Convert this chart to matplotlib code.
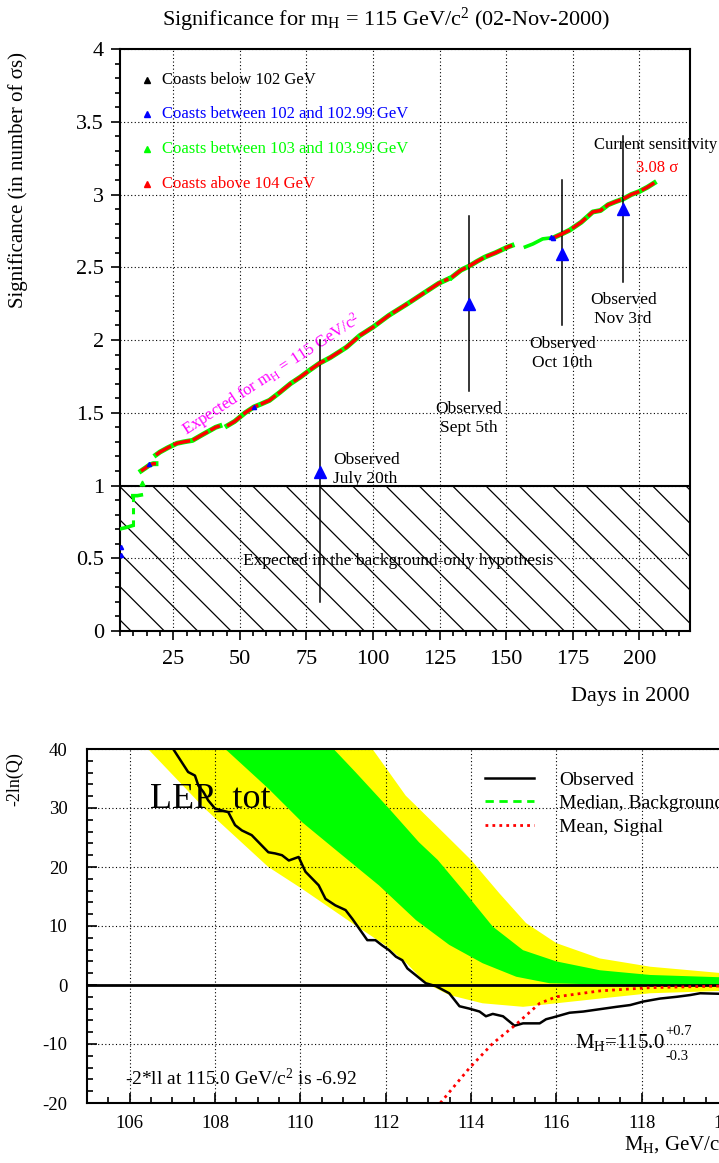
"""Significance vs days (LEP 2000) and -2ln(Q) vs Higgs mass
"""
import matplotlib
matplotlib.use('Agg')
import matplotlib.pyplot as plt
import numpy as np
from matplotlib.ticker import MultipleLocator, FuncFormatter

plt.rcParams['font.family'] = 'Liberation Serif'
plt.rcParams['mathtext.fontset'] = 'custom'
plt.rcParams['mathtext.rm'] = 'Liberation Serif'
plt.rcParams['mathtext.it'] = 'Liberation Serif:italic'
plt.rcParams['mathtext.default'] = 'regular'
plt.rcParams['axes.unicode_minus'] = False
plt.rcParams['hatch.linewidth'] = 0.9

nan = np.nan
GREEN = '#00ff00'

# ---------------- top panel data ----------------
# expected significance, early coasts and one later stretch (green only)
early_days = [4.7, 7.0, 9.8, nan, 9.8, 11.5, 13.0, nan, 157.2, 160.0, 163.7, 166.0]
early_sig = [0.70, 0.71, 0.725, nan, 0.93, 0.93, 0.935, nan, 2.64, 2.66, 2.695, 2.70]
jump_days = [9.8, 9.8]
jump_sig = [0.725, 0.93]

# expected significance, mixed coasts (red over green)
exp_days = [12.9, 14.5, 16.0, 17.5, 18.5, nan,
            18.5, 20.0, 23.0, 26.4, 29.0, 32.2, 36.0, 40.9, 42.5, nan,
            45.2, 48.0, 52.0, 55.3, 58.0, 61.1, 65.0, 69.0, 72.7, 76.0,
            79.9, 84.0, 90.0, 95.0, 100.1, 106.0, 113.0, 118.0, 124.7, 128.3, nan,
            129.5, 133.0, 136.3, 139.0, 142.0, 146.0, 150.7, 152.2, nan,
            168.0, 171.0, 173.8, 178.2, 182.5, 185.4, 188.3, 191.0, 194.0,
            197.0, 199.9, 203.0, 205.6]
exp_sig = [1.10, 1.12, 1.14, 1.15, 1.15, nan,
           1.21, 1.23, 1.26, 1.29, 1.30, 1.31, 1.35, 1.40, 1.41, nan,
           1.41, 1.44, 1.50, 1.54, 1.56, 1.585, 1.64, 1.70, 1.745, 1.79,
           1.84, 1.88, 1.95, 2.03, 2.09, 2.17, 2.25, 2.31, 2.39, 2.42, nan,
           2.43, 2.48, 2.51, 2.54, 2.57, 2.60, 2.64, 2.65, nan,
           2.705, 2.73, 2.755, 2.81, 2.88, 2.89, 2.93, 2.95, 2.97,
           3.00, 3.02, 3.05, 3.08]
single_days = [13.1]
single_sig = [1.02]
blue_days = [5.4, 5.4, 16.0, 55.3, 166.8, 167.6]
blue_sig = [0.58, 0.52, 1.15, 1.54, 2.705, 2.70]

# observed significance
obs_days = [79.9, 136.0, 171.0, 193.8]
obs_sig = [1.09, 2.245, 2.594, 2.90]
obs_lo = [0.2, 1.65, 2.10, 2.40]
obs_hi = [2.0, 2.85, 3.10, 3.40]
obs_labels = ['Observed\nJuly 20th', 'Observed\nSept 5th',
              'Observed\nOct 10th', 'Observed\nNov 3rd']
obs_label_x = [85.0, 135.8, 171.1, 193.9]
obs_label_y = [1.11, 1.46, 1.91, 2.21]
obs_label_ha = ['left', 'center', 'center', 'center']

coast_labels = ['Coasts below 102 GeV', 'Coasts between 102 and 102.99 GeV',
                'Coasts between 103 and 103.99 GeV', 'Coasts above 104 GeV']
coast_colors = ['black', 'blue', GREEN, 'red']
coast_y = [3.79, 3.55, 3.31, 3.07]

# ---------------- bottom panel data ----------------
y2lo_m = [106.43, 107.76, 109.25, 110.04, 111.29, 112.0, 112.5, 112.94, 113.49,
          114.27, 115.22, 116.0, 117.02, 118.2, 119.9, 120.0]
y2lo_q = [40, 29.9, 20.0, 16.3, 10.1, 6.7, 3.6, 0.3, -1.7,
          -3.1, -3.7, -3.1, -2.3, -1.4, -1.0, -1.0]
y2hi_m = [111.69, 112.47, 112.78, 113.4, 114.0, 114.67, 115.29, 116.0, 117.02,
          118.2, 119.9, 120.0]
y2hi_q = [40, 32.1, 29.9, 25.5, 21.2, 15.5, 10.5, 7.1, 4.5,
          3.1, 2.0, 1.95]
g1lo_m = [108.24, 109.25, 110.04, 110.98, 111.84, 112.71, 113.49, 114.27, 115.06,
          115.84, 117.5, 120.0]
g1lo_q = [40, 33.3, 27.6, 22.0, 16.9, 11.0, 6.8, 3.7, 1.4,
          0.3, 0.0, -0.1]
g1hi_m = [110.78, 111.29, 112.08, 112.78, 113.22, 113.88, 114.51, 115.22, 116.0,
          117.02, 118.2, 119.9, 120.0]
g1hi_q = [40, 36.1, 29.9, 24.2, 21.2, 15.5, 9.9, 5.9, 4.0,
          2.5, 1.7, 1.3, 1.28]

med_m = [109.5, 110.6, 111.5, 112.4, 113.2, 114.0, 115.0, 116.2, 118.0, 120.0]
med_q = [40, 32, 26, 19.5, 13.5, 8.5, 4.5, 2.2, 0.9, 0.6]

obs_m = [107.02, 107.37, 107.53, 107.61, 107.73, 107.84, 108.0, 108.31, 108.47,
         108.63, 108.86, 109.25, 109.41, 109.57, 109.73, 109.96, 110.12, 110.43,
         110.59, 110.82, 111.06, 111.22, 111.57, 111.76, 111.92, 112.08, 112.24,
         112.39, 112.51, 112.94, 113.18, 113.49, 113.73, 113.96, 114.2, 114.35,
         114.51, 114.75, 115.02, 115.22, 115.61, 115.76, 115.92, 116.31, 116.63,
         117.02, 117.41, 117.73, 118.04, 118.43, 118.82, 119.14, 119.37, 119.9,
         120.0]
obs_q = [40, 36.1, 35.5, 33.8, 32.7, 31.3, 29.9, 29.3, 27.1,
         26.2, 25.4, 22.5, 22.3, 22.0, 21.1, 21.7, 19.2, 16.9,
         14.6, 13.5, 12.7, 11.2, 7.6, 7.6, 6.7, 5.9, 4.8,
         4.2, 2.8, 0.3, -0.2, -1.4, -3.6, -4.0, -4.5, -5.3,
         -4.9, -5.3, -6.9, -6.5, -6.5, -5.8, -5.5, -4.7, -4.5,
         -4.1, -3.7, -3.4, -2.8, -2.3, -2.0, -1.7, -1.4, -1.5,
         -1.5]

sig_m = [113.28, 113.96, 114.51, 115.02, 115.61, 116.0, 117.02, 118.2, 119.9, 120.0]
sig_q = [-20, -14.1, -9.9, -6.9, -3.1, -2.0, -1.0, -0.45, -0.17, -0.16]

fig = plt.figure(figsize=(7.19, 11.63), dpi=100)
W, H = 719.0, 1163.0


def fx(px):
    return px / W


def fy(py):
    return 1 - py / H


grid_kw = dict(color='black', lw=0.8, linestyle=(0, (1, 2.2)))

# ================= top panel =================
ax = fig.add_axes([fx(120), fy(631), (690 - 120) / W, (631 - 49) / H])
ax.set_xlim(5, 219)
ax.set_ylim(0, 4)

ax.fill_between([5, 219], 0, 1, facecolor='none', edgecolor='black',
                hatch='\\', lw=0, zorder=1)
ax.axhline(1, color='black', lw=1.5, zorder=3)

ax.xaxis.set_major_locator(MultipleLocator(25))
ax.xaxis.set_minor_locator(MultipleLocator(5))
ax.yaxis.set_major_locator(MultipleLocator(0.5))
ax.yaxis.set_minor_locator(MultipleLocator(0.1))
ax.yaxis.set_major_formatter(FuncFormatter(lambda v, p: f'{v:g}'))
ax.grid(True, which='major', **grid_kw)
ax.set_axisbelow(True)
ax.tick_params(which='both', direction='out', top=False, right=False,
               labelsize=16, width=1.2)
ax.tick_params(which='major', length=6.5)
ax.tick_params(which='minor', length=3.6)
ax.tick_params(axis='x', pad=7)
ax.tick_params(axis='y', pad=5)
for s in ax.spines.values():
    s.set_linewidth(1.5)

# expected curve
ax.plot(early_days, early_sig, color=GREEN, lw=2.6, zorder=4)
ax.plot(jump_days, jump_sig, color=GREEN, lw=2.2, dashes=(2, 2), zorder=4)
ax.plot(exp_days, exp_sig, color=GREEN, lw=3.6, zorder=4)
ax.plot(exp_days, exp_sig, color='red', lw=2.5, zorder=5, dashes=(5, 0.8))
ax.plot(single_days, single_sig, '^', color=GREEN, ms=3.5, zorder=5)
ax.plot(blue_days, blue_sig, '^', color='blue', ms=3, zorder=6, lw=0)

# observed
for d, lo, hi in zip(obs_days, obs_lo, obs_hi):
    ax.plot([d, d], [lo, hi], color='black', lw=1.1, zorder=4)
ax.plot(obs_days, obs_sig, '^', color='blue', ms=9, zorder=7, lw=0)
for lab, x, y, ha in zip(obs_labels, obs_label_x, obs_label_y, obs_label_ha):
    ax.text(x, y, lab, ha=ha, va='center', fontsize=12.5, linespacing=1.25,
            zorder=8)

# legend of coasts
for lab, col, y in zip(coast_labels, coast_colors, coast_y):
    ax.plot([15.1], [y], '^', color=col, ms=4.5)
    ax.text(20.6, y, lab, color=col, fontsize=12, va='center', ha='left')

ax.text(183.0, 3.34, 'Current sensitivity', fontsize=12, va='center',
        ha='left', clip_on=False)
ax.text(198.9, 3.18, '3.08 σ', fontsize=12, color='red', va='center',
        ha='left')
ax.text(62.0, 1.76, 'Expected for m$_H$ = 115 GeV/c$^2$', color='magenta',
        fontsize=12, rotation=33, rotation_mode='anchor', ha='center',
        va='center')
ax.text(109.5, 0.48, 'Expected in the background-only hypothesis',
        fontsize=12.5, ha='center', va='center', zorder=8)

fig.text(fx(386), fy(20), 'Significance for m$_H$ = 115 GeV/c$^2$ (02-Nov-2000)',
         ha='center', va='center', fontsize=16)
fig.text(fx(18), fy(52), 'Significance (in number of σs)', rotation=90,
         ha='center', va='top', fontsize=15)
fig.text(fx(690), fy(697), 'Days in 2000', ha='right', va='center',
         fontsize=16)

# ================= bottom panel =================
bx = fig.add_axes([fx(87), fy(1103), (727 - 87) / W, (1103 - 749) / H])
bx.set_xlim(105, 120)
bx.set_ylim(-20, 40)

bx.fill(y2lo_m + y2hi_m[::-1], y2lo_q + y2hi_q[::-1], color='#ffff00',
        lw=0, zorder=1)
bx.fill(g1lo_m + g1hi_m[::-1], g1lo_q + g1hi_q[::-1], color=GREEN,
        lw=0, zorder=2)

bx.xaxis.set_major_locator(MultipleLocator(2))
bx.xaxis.set_minor_locator(MultipleLocator(0.5))
bx.yaxis.set_major_locator(MultipleLocator(10))
bx.yaxis.set_minor_locator(MultipleLocator(2))
bx.grid(True, which='major', zorder=3, **grid_kw)
bx.tick_params(which='both', direction='in', top=False, right=False,
               labelsize=13.5, width=1.2)
bx.tick_params(which='major', length=7)
bx.tick_params(which='minor', length=4)
bx.tick_params(axis='y', pad=14)
bx.tick_params(axis='x', pad=8.5)
for s in bx.spines.values():
    s.set_linewidth(1.5)
    s.set_zorder(6)

bx.axhline(0, color='black', lw=2, zorder=4)
l_med, = bx.plot(med_m, med_q, color=GREEN, lw=2, dashes=(3, 2), zorder=3)
l_obs, = bx.plot(obs_m, obs_q, color='black', lw=1.8, zorder=5)
l_sig, = bx.plot(sig_m, sig_q, color='red', lw=2, linestyle=(0, (1, 1.5)),
                 zorder=5)

bx.legend([l_obs, l_med, l_sig],
          ['Observed', 'Median, Background', 'Mean, Signal'],
          loc='upper left', bbox_to_anchor=(fx(485), fy(771)),
          bbox_transform=fig.transFigure, frameon=False, fontsize=14,
          handlelength=2.5, handletextpad=1.3, labelspacing=0.3,
          borderpad=0, borderaxespad=0)

bx.text(106.48, 30.0, 'LEP_tot', fontsize=26, ha='left', va='baseline',
        zorder=6)
bx.text(105.88, -16.95, '-2*ll at 115.0 GeV/c$^2$ is -6.92', fontsize=14,
        ha='left', va='baseline', zorder=6)
bx.text(116.44, -10.7, 'M$_H$=115.0', fontsize=15, ha='left',
        va='baseline', zorder=6)
bx.text(118.55, -7.9, '+0.7', fontsize=10.5, ha='left', va='center', zorder=6)
bx.text(118.55, -12.15, '-0.3', fontsize=10.5, ha='left', va='center',
        zorder=6)

fig.text(fx(15), fy(752), '-2ln(Q)', rotation=90, ha='center', va='top',
         fontsize=13)
fig.text(fx(727), fy(1150), 'M$_H$, GeV/c$^2$', ha='right', va='baseline',
         fontsize=15)

fig.savefig('out.png', dpi=100)
